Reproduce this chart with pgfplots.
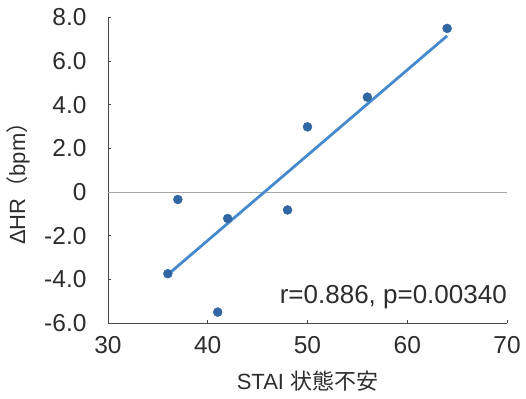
\documentclass[border=0pt]{standalone}
\usepackage{pgfplots}
\pgfplotsset{compat=1.18}
\usepackage{fontspec}
\setmainfont{Liberation Sans}
\newfontfamily\cjk{Noto Sans CJK JP}

\definecolor{dotblue}{RGB}{48,102,162}
\definecolor{fitblue}{RGB}{70,138,206}
\definecolor{axisgray}{RGB}{70,70,70}
\definecolor{textgray}{RGB}{45,45,45}

\begin{document}
\begin{tikzpicture}
\useasboundingbox (-108pt,-75pt) rectangle (418pt,323pt);
\begin{axis}[
  scale only axis,
  width=399pt, height=305.5pt,
  xmin=30, xmax=70, ymin=-6, ymax=8,
  axis x line*=bottom, axis y line*=left,
  axis line style={axisgray, line width=0.9pt},
  xtick={30,40,50,60,70},
  ytick={-6,-4,-2,0,2,4,6,8},
  yticklabels={-6.0,-4.0,-2.0,0,2.0,4.0,6.0,8.0},
  tick align=inside,
  major tick length=3.5pt,
  tick style={axisgray, line width=0.8pt},
  font=\fontsize{24}{28}\selectfont,
  tick label style={textgray, font=\fontsize{24.5}{28}\selectfont},
  /pgf/number format/assume math mode=true,
  xticklabel style={yshift=-10pt},
  yticklabel style={xshift=-18pt},
  xlabel={STAI {\cjk 状態不安}},
  ylabel={ΔHR{\cjk（}bpm{\cjk ）}},
  label style={textgray, font=\fontsize{22}{26}\selectfont},
  xlabel style={at={(axis description cs:0.5,0)}, anchor=center, yshift=-58pt},
  % the y label is rotated, so its shifts act in the rotated frame
  ylabel style={at={(axis description cs:0,0.5)}, anchor=center, xshift=-8pt, yshift=90pt},
  clip=false,
]
% zero reference line
\addplot[gray!70, line width=0.7pt] coordinates {(30,0) (70,0)};
% least-squares fit
\addplot[fitblue, line width=2.8pt] coordinates {(36,-3.78) (64,7.16)};
% observations
\addplot[only marks, mark=*, mark size=4.5pt, mark options={fill=dotblue, draw=dotblue}]
  coordinates {
    (36,-3.74) (37,-0.34) (41,-5.50) (42,-1.21)
    (48,-0.82) (50,2.99) (56,4.35) (64,7.50)
  };
\node[anchor=east, textgray, font=\fontsize{26}{30}\selectfont, inner sep=0pt]
  at (axis cs:70,-4.83) {r=0.886, p=0.00340};
\end{axis}
\end{tikzpicture}
\end{document}
